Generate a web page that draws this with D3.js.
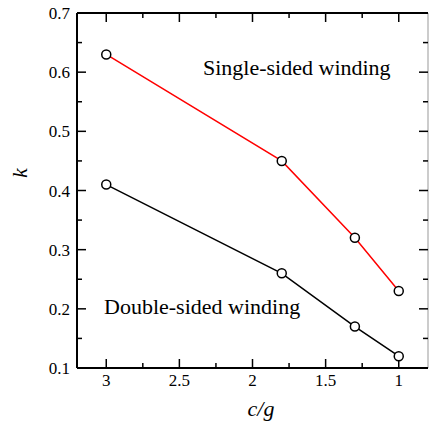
<!DOCTYPE html>
<html><head><meta charset="utf-8">
<script src="https://cdn.jsdelivr.net/npm/d3@7"></script>
<style>body{margin:0;background:#fff}svg{display:block}</style>
</head><body>
<script>
const cg = [3, 1.8, 1.3, 1];
const singleSided = [0.63, 0.45, 0.32, 0.23];
const doubleSided = [0.41, 0.26, 0.17, 0.12];
const xTicks = [3, 2.5, 2, 1.5, 1];
const xMinor = [3.25, 3, 2.75, 2.5, 2.25, 2, 1.75, 1.5, 1.25, 1, 0.75];
const yTicks = [0.1, 0.2, 0.3, 0.4, 0.5, 0.6, 0.7];
const yMinor = [0.15, 0.25, 0.35, 0.45, 0.55, 0.65];

const W = 429, H = 423;
const L = 77, R = 428, T = 13, B = 368;
const FF = '"Liberation Serif", "Times New Roman", Tinos, monospace';
const svg = d3.select("body").append("svg").attr("width", W).attr("height", H);
const x = d3.scaleLinear().domain([3.2, 0.8]).range([L, R]);
const y = d3.scaleLinear().domain([0.1, 0.7]).range([B, T]);

// frame
svg.append("line").attr("x1", R).attr("x2", R).attr("y1", T).attr("y2", B).attr("stroke", "#999").attr("stroke-width", 1);
const ax = svg.append("g").attr("stroke", "#000").attr("stroke-width", 2);
ax.append("line").attr("x1", L).attr("x2", R).attr("y1", B).attr("y2", B);
ax.append("line").attr("x1", L).attr("x2", R).attr("y1", T).attr("y2", T);
ax.append("line").attr("x1", L).attr("x2", L).attr("y1", T).attr("y2", B);

const xm = xMinor.filter(v => x(v) > L + 1 && x(v) < R - 1);
ax.selectAll(".xmb").data(xm).join("line")
  .attr("x1", d => x(d)).attr("x2", d => x(d))
  .attr("y1", B).attr("y2", d => B - (xTicks.includes(d) ? 9 : 5)).attr("stroke-width", 1.5);
ax.selectAll(".xmt").data(xm).join("line")
  .attr("x1", d => x(d)).attr("x2", d => x(d))
  .attr("y1", T).attr("y2", d => T + (xTicks.includes(d) ? 9 : 5)).attr("stroke-width", 1.5);
const yall = yTicks.concat(yMinor).filter(v => y(v) > T + 1 && y(v) < B - 1);
ax.selectAll(".yl").data(yall).join("line")
  .attr("y1", d => y(d)).attr("y2", d => y(d))
  .attr("x1", L).attr("x2", d => L + (yTicks.includes(d) ? 9 : 5)).attr("stroke-width", 1.5);
ax.selectAll(".yr").data(yall).join("line")
  .attr("y1", d => y(d)).attr("y2", d => y(d))
  .attr("x1", R).attr("x2", d => R - (yTicks.includes(d) ? 9 : 5)).attr("stroke-width", 1.5);

const txt = svg.append("g").attr("class", "labels");
txt.selectAll(".xt").data(xTicks).join("text")
  .attr("x", d => x(d)).attr("y", 386).attr("text-anchor", "middle")
  .style("font-size", "17px").text(d => String(d));
txt.selectAll(".yt").data(yTicks).join("text")
  .attr("x", 70).attr("y", d => y(d) + 6).attr("text-anchor", "end")
  .style("font-size", "17px").text(d => d.toFixed(1));
txt.append("text").attr("x", 261).attr("y", 416).attr("text-anchor", "middle")
  .style("font-style", "italic").style("font-size", "22px").text("c/g");
txt.append("text").attr("transform", "translate(27,173) rotate(-90)").attr("text-anchor", "middle")
  .style("font-style", "italic").style("font-size", "22px").text("k");

const line = d3.line().x(d => x(d[0])).y(d => y(d[1]));
const series = [
  {vals: singleSided, color: "#ff0000"},
  {vals: doubleSided, color: "#000000"}
];
series.forEach(s => {
  const pts = cg.map((c, i) => [c, s.vals[i]]);
  svg.append("path").attr("d", line(pts)).attr("fill", "none").attr("stroke", s.color).attr("stroke-width", 1.5);
  svg.selectAll(null).data(pts).join("circle")
    .attr("cx", d => x(d[0])).attr("cy", d => y(d[1])).attr("r", 4.5)
    .attr("fill", "#fff").attr("stroke", "#000").attr("stroke-width", 1.5);
});

txt.append("text").attr("x", 203).attr("y", 75).style("font-size", "22px").text("Single-sided winding");
txt.append("text").attr("x", 104).attr("y", 314).style("font-size", "22px").text("Double-sided winding");

txt.selectAll("text").each(function() { this.style.setProperty("font-family", FF, "important"); });
</script>
</body></html>
